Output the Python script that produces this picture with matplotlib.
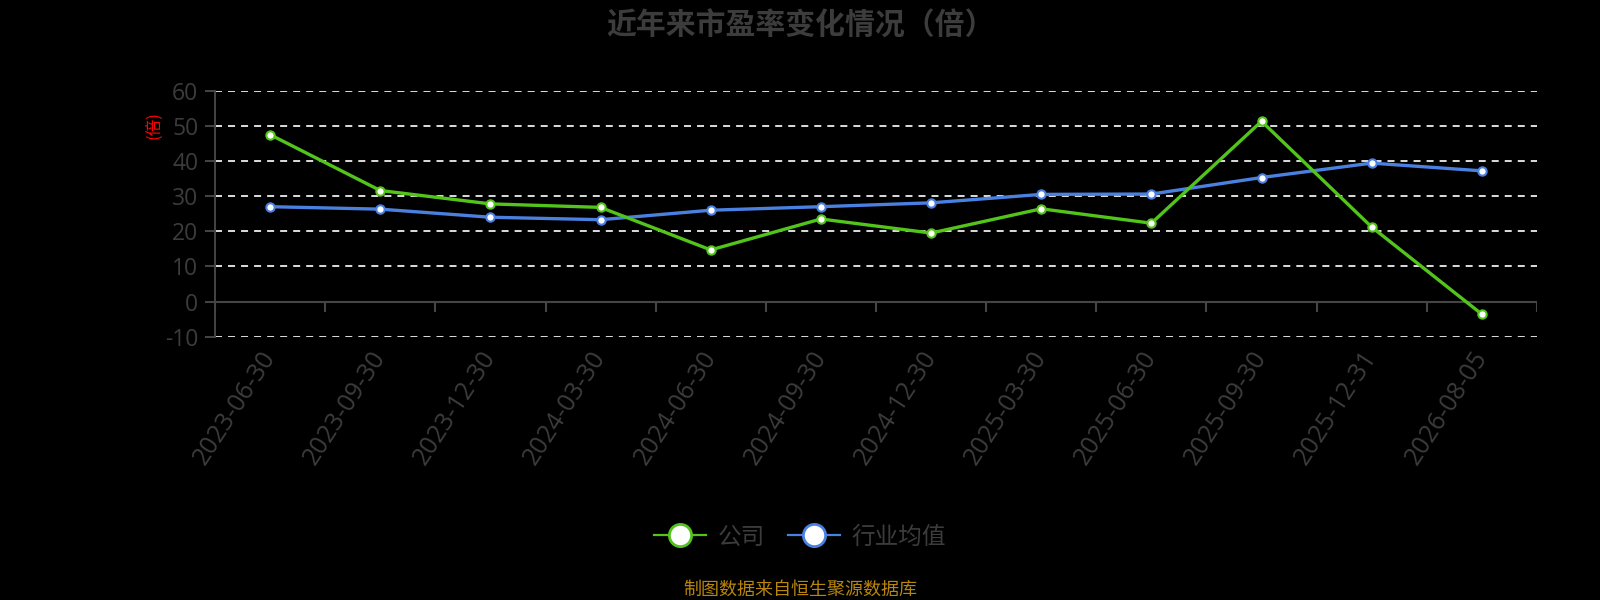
import matplotlib.pyplot as plt
from matplotlib.lines import Line2D

plt.rcParams["font.family"] = ["Noto Sans CJK SC", "DejaVu Sans"]

dates = [
    "2023-06-30", "2023-09-30", "2023-12-30", "2024-03-30",
    "2024-06-30", "2024-09-30", "2024-12-30", "2025-03-30",
    "2025-06-30", "2025-09-30", "2025-12-31", "2026-08-05",
]
company_pe = [47.5, 31.6, 27.8, 26.8, 14.7, 23.5, 19.5, 26.4, 22.3, 51.3, 21.2, -3.6]
industry_pe = [27.0, 26.3, 24.0, 23.3, 26.0, 27.0, 28.1, 30.5, 30.6, 35.3, 39.4, 37.2]
y_ticks = [-10, 0, 10, 20, 30, 40, 50, 60]

green = "#52c41a"
blue = "#4a80e0"
text_gray = "#3c3c3c"
axis_gray = "#454545"


def create_chart():
    fig = plt.figure(figsize=(16, 6), dpi=100, facecolor="black")
    ax = fig.add_axes([0.1344, 0.4388, 0.8262, 0.41], facecolor="black")

    x = list(range(len(dates)))

    ax.set_xlim(-0.5, len(dates) - 0.5)
    ax.set_ylim(-10, 60)

    # dashed grid, zero line is drawn by the axis itself
    for value in y_ticks:
        if value == 0:
            continue
        ax.axhline(value, color="#dcdcdc", lw=1.4,
                   dashes=(3.6, 3.1), zorder=1)

    ax.axhline(0, color=axis_gray, lw=1.5, zorder=2)
    boundaries = [i - 0.5 for i in range(len(dates) + 1)]
    ax.vlines(boundaries, -2.85, 0, color=axis_gray, lw=1.5, zorder=2)

    ax.plot(x, company_pe, color=green, lw=2.4, marker="o", ms=6,
            mfc="white", mec=green, mew=1.5, zorder=4)
    ax.plot(x, industry_pe, color=blue, lw=2.4, marker="o", ms=6,
            mfc="white", mec=blue, mew=1.5, zorder=3)

    ax.set_yticks(y_ticks)
    ax.set_yticklabels([str(v) for v in y_ticks], family="Open Sans",
                       fontsize=16.5, color=text_gray)
    ax.tick_params(axis="y", direction="out", length=7, width=1.4,
                   color=axis_gray, pad=5)

    ax.set_xticks(x)
    ax.set_xticklabels(dates, family="Open Sans", fontsize=18,
                       color=text_gray, rotation=57, ha="right",
                       va="center", rotation_mode="anchor")
    ax.tick_params(axis="x", length=0, pad=12)

    for side in ["top", "right", "bottom"]:
        ax.spines[side].set_visible(False)
    ax.spines["left"].set_color(axis_gray)
    ax.spines["left"].set_linewidth(1.4)

    fig.text(0.5, 0.958, "近年来市盈率变化情况（倍）", ha="center",
             va="center", fontsize=21.5, fontweight="bold", color=text_gray)
    fig.text(0.096, 0.792, "(倍)", ha="center", va="center",
             rotation=90, fontsize=12, color="red")

    handles = [
        Line2D([], [], color=green, lw=1.6, marker="o", ms=16,
               mfc="white", mec=green, mew=2),
        Line2D([], [], color=blue, lw=1.6, marker="o", ms=16,
               mfc="white", mec=blue, mew=2),
    ]
    fig.legend(handles, ["公司", "行业均值"], loc="center",
               bbox_to_anchor=(0.5, 0.105), ncol=2, frameon=False,
               fontsize=17, labelcolor=text_gray, handlelength=2.2,
               handletextpad=0.5, columnspacing=1.0)

    fig.text(0.5, 0.017, "制图数据来自恒生聚源数据库", ha="center",
             va="center", fontsize=13, color="#b8860b")

    fig.savefig("out.png", facecolor="black")
    plt.close(fig)


if __name__ == "__main__":
    create_chart()
